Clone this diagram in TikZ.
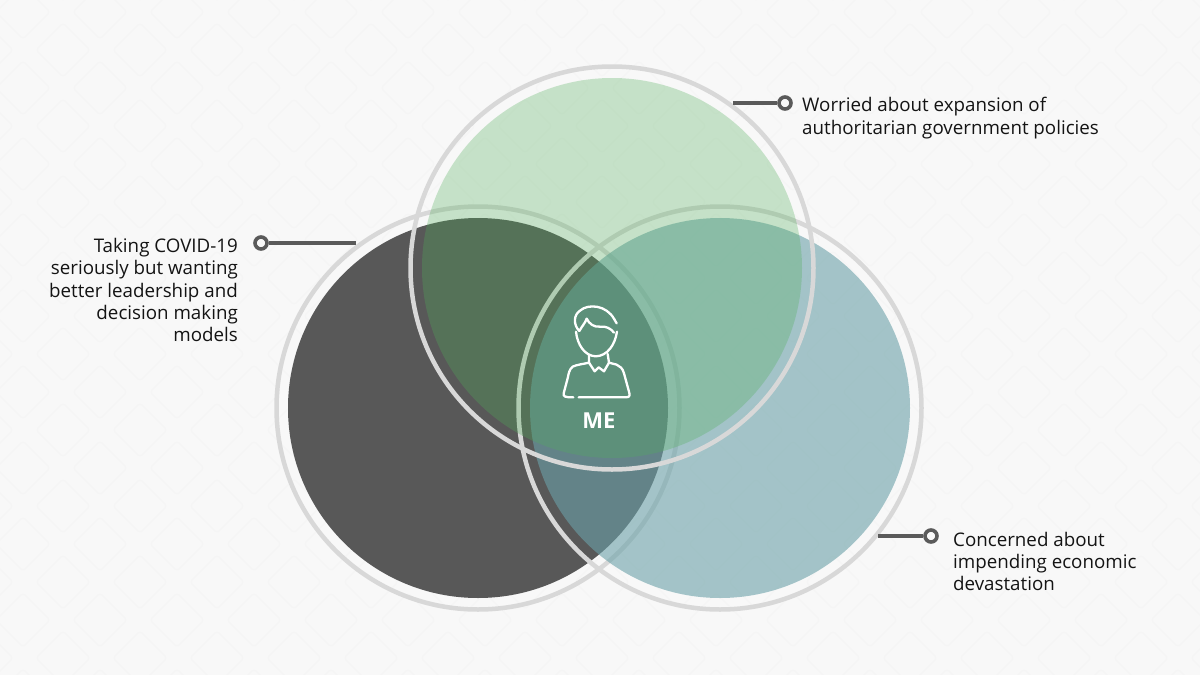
\documentclass[tikz,border=0pt]{standalone}
\usepackage{fontspec}
\setmainfont{Open Sans}
\definecolor{bgc}{HTML}{F8F8F8}
\definecolor{tile}{HTML}{F5F5F5}
\definecolor{darkc}{HTML}{585858}
\definecolor{tealc}{RGB}{107,161,168}
\definecolor{greenc}{RGB}{81,175,90}
\definecolor{ringc}{HTML}{D8D8D8}
\definecolor{leader}{HTML}{5A5A5A}
\tikzset{
  tilestyle/.style={draw=tile,line width=1.2pt,rounded corners=3pt},
  disc/.style={circle,minimum size=380pt,inner sep=0pt,draw=none},
  ring/.style={circle,minimum size=403pt,inner sep=0pt,draw=ringc,line width=4.5pt},
  dot/.style={circle,minimum size=12pt,inner sep=0pt,draw=leader,line width=3.6pt,fill=bgc},
  lead/.style={draw=leader,line width=3.2pt},
  caption/.style={inner sep=0pt,font=\fontsize{18.75}{22.4}\selectfont,text=black!92},
  icon/.style={draw=white,line width=2.3pt,line cap=round,line join=round}
}
\begin{document}
\begin{tikzpicture}[x=1pt,y=-1pt]
\useasboundingbox (0,0) rectangle (1200,675);
\fill[bgc] (0,0) rectangle (1200,675);
\begin{scope}
\clip (0,0) rectangle (1200,675);
\foreach \i in {-1,...,15}{
  \foreach \j in {-1,...,9}{
    \draw[tilestyle] ({23+77*\i-27},{12+76*\j}) -- ({23+77*\i},{12+76*\j-27}) -- ({23+77*\i+27},{12+76*\j}) -- ({23+77*\i},{12+76*\j+27}) -- cycle;
    \draw[tilestyle] ({63+77*\i-27},{50+76*\j}) -- ({63+77*\i},{50+76*\j-27}) -- ({63+77*\i+27},{50+76*\j}) -- ({63+77*\i},{50+76*\j+27}) -- cycle;
  }
}
\end{scope}
% each disc lies over its own ring and over the earlier layers
\node[ring] (dkring) at (478,408) {};
\node[disc,fill=darkc] (dkdisc) at (478,408) {};
\node[ring] (tlring) at (720,408) {};
\node[disc,fill=tealc,fill opacity=.6] (tldisc) at (720,408) {};
\node[ring] (grring) at (612,268) {};
\node[disc,fill=greenc,fill opacity=.3] (grdisc) at (612,268) {};
% leaders
\coordinate (endtop) at (733,103);
\coordinate (endleft) at (356,243);
\coordinate (endright) at (878,536);
\node[dot] (dottop) at (785,103) {};
\draw[lead] (endtop) -- (dottop);
\node[dot] (dotleft) at (261,243) {};
\draw[lead] (dotleft) -- (endleft);
\node[dot] (dotright) at (931,536) {};
\draw[lead] (endright) -- (dotright);
% captions
\node[caption,anchor=west,align=left] (captop) at (802,118) {Worried about expansion of\\authoritarian government policies};
\node[caption,anchor=east,align=right] (capleft) at (238,290) {Taking COVID-19\\seriously but wanting\\better leadership and\\decision making\\models};
\node[caption,anchor=west,align=left] (capright) at (953,561.5) {Concerned about\\impending economic\\devastation};
\node[inner sep=0pt,text=white,font=\fontsize{22}{26}\selectfont\bfseries] (melabel) at (599,421) {ME};
% person icon
\begin{scope}[shift={(520,280)},x=0.3333pt,y=-0.3333pt]
\draw[icon] (178,153) .. controls (160,135) and (160,105) .. (180,92) .. controls (205,70) and (260,75) .. (283,118);
\draw[icon] (178,153) .. controls (185,140) and (195,130) .. (200,116) .. controls (208,132) and (222,142) .. (240,140) .. controls (258,138) and (272,145) .. (282,158);
\draw[icon] (283,118) -- (290,130);
\draw[icon] (168,155) .. controls (172,195) and (195,228) .. (227,229) .. controls (262,228) and (285,195) .. (291,155);
\draw[icon] (207,224) -- (207,248) -- (224,274) -- (236,262) -- (252,274) -- (267,248) -- (263,222);
\draw[icon] (207,248) .. controls (190,252) and (170,254) .. (158,260) .. controls (148,268) and (146,280) .. (143,295) -- (131,340) .. controls (129,350) and (135,352) .. (160,352);
\draw[icon] (176,352) -- (318,352) .. controls (330,352) and (330,345) .. (327,335) -- (312,280) .. controls (308,265) and (300,258) .. (290,254) -- (267,248);
\end{scope}
\end{tikzpicture}
\end{document}
